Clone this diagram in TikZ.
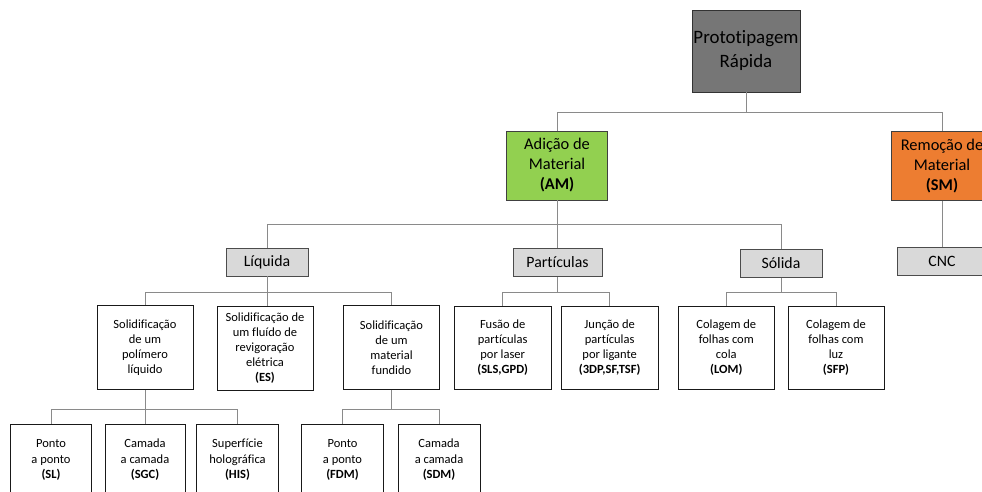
\documentclass[tikz,border=0pt]{standalone}
\usepackage{fontspec}
\setmainfont{Carlito}[Ligatures=NoCommon]
\begin{document}
\begin{tikzpicture}[x=1pt,y=-1pt,
  box/.style={draw, line width=0.8pt, align=center, inner sep=1pt},
  toplvl/.style={box, fill=gray55, draw=black!80, minimum width=108pt, minimum height=82pt,
    font=\fontsize{18.9}{24}\selectfont},
  branch/.style={box, draw=black!75, minimum width=101pt, minimum height=69pt,
    font=\fontsize{16.4}{20}\selectfont},
  state/.style={box, fill=gray85, draw=black!70, minimum height=28pt,
    font=\fontsize{15.8}{18}\selectfont},
  leaf/.style={box, fill=white, draw=black!90, minimum width=96pt, minimum height=84pt,
    font=\fontsize{12.5}{15}\selectfont},
  tip/.style={box, fill=white, draw=black!90, minimum width=81pt, minimum height=72pt,
    font=\fontsize{12.5}{15.5}\selectfont},
  conn/.style={draw=linegray, line width=0.8pt}]
\definecolor{gray55}{HTML}{767676}
\definecolor{gray85}{HTML}{D9D9D9}
\definecolor{amgreen}{HTML}{92D050}
\definecolor{smorange}{HTML}{ED7D31}
\definecolor{linegray}{HTML}{8A8A8A}

\useasboundingbox (0,0) rectangle (982,491);
\clip (0,0) rectangle (982,491);

% root and main branches
\node[toplvl] (proto) at (746,51) {Prototipagem\\Rápida};
\node[branch, fill=amgreen] (am) at (557,165.5) {Adição de\\Material\\\textbf{(AM)}};
\node[branch, fill=smorange, minimum width=102pt] (sm) at (942,166) {Remoção de\\Material\\\textbf{(SM)}};

% states of matter
\node[state, minimum width=82pt] (liq) at (267,262) {Líquida};
\node[state, minimum width=89pt] (part) at (557.5,262.5) {Partículas};
\node[state, minimum width=82pt] (sol) at (781,263.5) {Sólida};
\node[state, minimum width=90pt] (cnc) at (942,261.5) {CNC};

% processes
\node[leaf] (s1) at (145,347.5) {Solidificação\\de um\\polímero\\líquido};
\node[leaf] (s2) at (265,348) {Solidificação de\\um fluído de\\revigoração\\elétrica\\\textbf{(ES)}};
\node[leaf] (s3) at (391.5,347.5) {Solidificação\\de um\\material\\fundido};
\node[leaf, minimum width=97pt, minimum height=83pt] (f1) at (502.7,347.5) {Fusão de\\partículas\\por laser\\\textbf{(SLS,GPD)}};
\node[leaf, minimum width=97pt, minimum height=83pt] (f2) at (609.7,347.5) {Junção de\\partículas\\por ligante\\\textbf{(3DP,SF,TSF)}};
\node[leaf, minimum height=83pt] (c1) at (726.3,347.5) {Colagem de\\folhas com\\cola\\\textbf{(LOM)}};
\node[leaf, minimum height=83pt] (c2) at (836,347.5) {Colagem de\\folhas com\\luz\\\textbf{(SFP)}};

% techniques
\node[tip] (b1) at (51,460) {Ponto\\a ponto\\\textbf{(SL)}};
\node[tip, minimum width=80pt] (b2) at (145,460) {Camada\\a camada\\\textbf{(SGC)}};
\node[tip, minimum width=82pt] (b3) at (237.5,460) {Superfície\\holográfica\\\textbf{(HIS)}};
\node[tip, minimum width=82pt] (b4) at (342.5,460) {Ponto\\a ponto\\\textbf{(FDM)}};
\node[tip, minimum width=82pt] (b5) at (439,460) {Camada\\a camada\\\textbf{(SDM)}};

% bus points, each straight below its parent
\coordinate (j0) at (proto.south |- 0,112);
\coordinate (j1) at (am.south |- 0,224.5);
\coordinate (j2) at (liq.south |- 0,292.3);
\coordinate (j3) at (part.south |- 0,292.3);
\coordinate (j4) at (sol.south |- 0,292.3);
\coordinate (j5) at (s1.south |- 0,409);
\coordinate (j6) at (s3.south |- 0,409);

% connectors
\draw[conn] (proto.south) -- (j0) -| (am.north);
\draw[conn] (j0) -| (sm.north);
\draw[conn] (sm.south) -- (cnc.north);
\draw[conn] (am.south) -- (j1) -| (liq.north);
\draw[conn] (j1) -| (sol.north);
\draw[conn] (j1) -- (j1 |- part.north);
\draw[conn] (liq.south) -- (j2) -| (s1.north);
\draw[conn] (j2) -| (s3.north);
\draw[conn] (j2) -- (j2 |- s2.north);
\draw[conn] (part.south) -- (j3) -| (f1.north);
\draw[conn] (j3) -| (f2.north);
\draw[conn] (sol.south) -- (j4) -| (c1.north);
\draw[conn] (j4) -| (c2.north);
\draw[conn] (s1.south) -- (j5) -| (b1.north);
\draw[conn] (j5) -| (b3.north);
\draw[conn] (j5) -- (b2.north);
\draw[conn] (s3.south) -- (j6) -| (b4.north);
\draw[conn] (j6) -| (b5.north);
\end{tikzpicture}
\end{document}
